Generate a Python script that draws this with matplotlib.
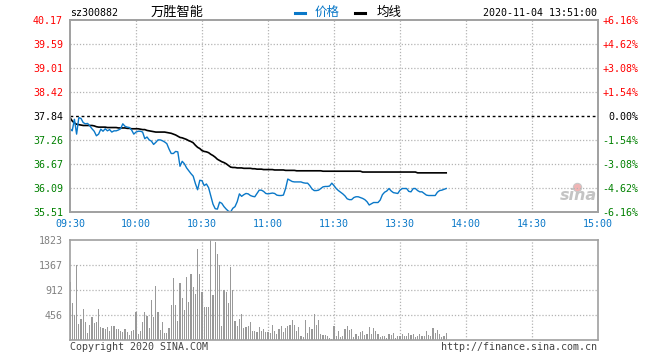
import matplotlib
matplotlib.use("Agg")
import matplotlib.pyplot as plt
from matplotlib.lines import Line2D
import numpy as np

# ---------------- data ----------------
stock_code = "sz300882"
stock_name = "万胜智能"
timestamp = "2020-11-04 13:51:00"
prev_close = 37.84

price = [37.53, 37.48, 37.76, 37.40, 37.80, 37.78, 37.68, 37.65, 37.66, 37.60,
         37.53, 37.47, 37.36, 37.40, 37.52, 37.47, 37.53, 37.48, 37.51, 37.45,
         37.48, 37.48, 37.50, 37.53, 37.65, 37.59, 37.57, 37.56, 37.50, 37.40,
         37.45, 37.47, 37.47, 37.45, 37.29, 37.33, 37.26, 37.23, 37.15, 37.20,
         37.26, 37.26, 37.24, 37.21, 37.17, 37.04, 36.93, 36.93, 36.98, 36.97,
         36.62, 36.74, 36.68, 36.58, 36.51, 36.44, 36.38, 36.20, 36.05, 36.28,
         36.27, 36.15, 36.19, 36.10, 35.90, 35.70, 35.59, 35.58, 35.75, 35.72,
         35.64, 35.58, 35.53, 35.51, 35.60, 35.64, 35.76, 35.95, 35.89, 35.93,
         35.96, 35.95, 35.91, 35.89, 35.88, 35.96, 36.04, 36.04, 36.01, 35.96,
         35.95, 35.96, 35.97, 35.96, 35.92, 35.91, 35.91, 35.92, 36.08, 36.31,
         36.28, 36.25, 36.24, 36.24, 36.24, 36.24, 36.22, 36.21, 36.21, 36.15,
         36.07, 36.03, 36.03, 36.04, 36.08, 36.12, 36.13, 36.13, 36.14, 36.21,
         36.15, 36.08, 36.03, 35.99, 35.95, 35.90, 35.83, 35.81, 35.81, 35.86,
         35.88, 35.88, 35.86, 35.84, 35.81, 35.76, 35.68, 35.71, 35.74, 35.74,
         35.74, 35.80, 35.93, 35.99, 36.02, 36.08, 36.02, 35.98, 35.97, 35.96,
         36.04, 36.08, 36.08, 36.08, 36.01, 36.00, 36.08, 36.08, 36.03, 36.00,
         36.00, 35.96, 35.92, 35.91, 35.91, 35.91, 35.91, 35.99, 36.03, 36.04,
         36.06, 36.08]

avg_price = [37.80, 37.72, 37.67, 37.64, 37.63, 37.62, 37.61, 37.61, 37.61, 37.61,
             37.61, 37.60, 37.58, 37.57, 37.57, 37.57, 37.57, 37.56, 37.56, 37.56,
             37.56, 37.56, 37.55, 37.55, 37.55, 37.55, 37.54, 37.54, 37.53, 37.53,
             37.53, 37.53, 37.52, 37.51, 37.51, 37.49, 37.48, 37.47, 37.46, 37.45,
             37.45, 37.45, 37.45, 37.45, 37.44, 37.43, 37.42, 37.40, 37.38, 37.35,
             37.32, 37.31, 37.29, 37.27, 37.24, 37.22, 37.19, 37.13, 37.08, 37.05,
             37.00, 36.98, 36.97, 36.95, 36.91, 36.88, 36.84, 36.79, 36.76, 36.73,
             36.71, 36.68, 36.64, 36.60, 36.59, 36.59, 36.58, 36.58, 36.58, 36.57,
             36.57, 36.57, 36.57, 36.56, 36.56, 36.55, 36.55, 36.55, 36.54, 36.54,
             36.54, 36.54, 36.54, 36.53, 36.53, 36.53, 36.53, 36.53, 36.52, 36.52,
             36.52, 36.52, 36.52, 36.51, 36.51, 36.51, 36.51, 36.51, 36.51, 36.51,
             36.51, 36.51, 36.51, 36.51, 36.51, 36.50, 36.50, 36.50, 36.50, 36.50,
             36.50, 36.50, 36.50, 36.50, 36.50, 36.50, 36.50, 36.50, 36.50, 36.50,
             36.50, 36.50, 36.50, 36.48, 36.48, 36.48, 36.48, 36.48, 36.48, 36.48,
             36.48, 36.48, 36.48, 36.48, 36.48, 36.48, 36.48, 36.48, 36.48, 36.48,
             36.48, 36.48, 36.48, 36.48, 36.48, 36.48, 36.48, 36.48, 36.46, 36.46,
             36.46, 36.46, 36.46, 36.46, 36.46, 36.46, 36.46, 36.46, 36.46, 36.46,
             36.46, 36.46]

volume = [1050, 680, 450, 1361, 292, 389, 571, 328, 134, 273,
          419, 304, 328, 571, 243, 219, 200, 243, 170, 255,
          255, 200, 200, 164, 152, 200, 146, 97, 164, 182,
          510, 115, 164, 328, 510, 437, 219, 729, 419, 984,
          510, 182, 328, 134, 134, 219, 638, 1130, 638, 346,
          1039, 766, 547, 1148, 693, 1203, 966, 839, 1665, 1203,
          875, 602, 602, 602, 1823, 814, 1787, 1568, 1361, 255,
          911, 875, 680, 1331, 911, 346, 255, 377, 468, 219,
          243, 255, 328, 164, 164, 146, 237, 164, 200, 146,
          146, 134, 273, 164, 109, 200, 255, 146, 219, 255,
          273, 365, 273, 164, 237, 73, 55, 365, 128, 243,
          200, 474, 280, 365, 115, 91, 97, 73, 36, 18,
          255, 73, 164, 55, 73, 200, 255, 182, 200, 55,
          109, 73, 146, 164, 91, 109, 237, 109, 219, 164,
          109, 55, 73, 73, 36, 109, 91, 128, 36, 73,
          73, 109, 73, 73, 128, 91, 109, 55, 73, 109,
          73, 73, 164, 91, 73, 219, 128, 182, 109, 55,
          73, 128]

price_ticks = [40.17, 39.59, 39.01, 38.42, 37.84, 37.26, 36.67, 36.09, 35.51]
pct_labels = ["+6.16%", "+4.62%", "+3.08%", "+1.54%", "0.00%",
              "-1.54%", "-3.08%", "-4.62%", "-6.16%"]
time_labels = ["09:30", "10:00", "10:30", "11:00", "11:30",
               "13:30", "14:00", "14:30", "15:00"]
vol_ticks = [456, 912, 1367, 1823]

# ---------------- style ----------------
W, H = 660, 360
RED = "#ff0000"
GREEN = "#008000"
BLUE = "#0a78c8"
FRAME = "#a0a0a0"
GRID = "#b4b4b4"
MONO = "DejaVu Sans Mono"
CJK = ["Noto Sans CJK SC", "DejaVu Sans"]

fig = plt.figure(figsize=(W / 100, H / 100), dpi=100)
fig.patch.set_facecolor("white")


def fx(x):
    return x / W


def fy(y):
    return 1 - y / H


def axes_px(left, top, right, bottom):
    return fig.add_axes([fx(left), fy(bottom), (right - left) / W, (bottom - top) / H])


ax = axes_px(70, 20, 598, 212)
axv = axes_px(70, 240, 598, 340)

n_total = 240
minutes = np.arange(len(price))
tick_pos = np.arange(0, n_total + 1, 30)

# ---- price panel ----
ax.set_xlim(0, n_total)
ax.set_ylim(price_ticks[-1], price_ticks[0])
dot = (0, (1, 1.5))
for t in tick_pos[1:-1]:
    ax.axvline(t, color=GRID, lw=0.9, ls=dot, zorder=1)
for p in price_ticks[1:-1]:
    if p == prev_close:
        continue
    ax.axhline(p, color=GRID, lw=0.9, ls=dot, zorder=1)
ax.axhline(prev_close, color="black", lw=1.0, ls=(0, (2, 2)), zorder=2)

ax.plot(minutes, avg_price, color="black", lw=1.2, zorder=3)
ax.plot(minutes, price, color=BLUE, lw=1.0, zorder=4)

ax.set_yticks(price_ticks)
ax.set_yticklabels([f"{p:.2f}" for p in price_ticks], fontfamily=MONO, fontsize=7.2)
for lbl, p in zip(ax.get_yticklabels(), price_ticks):
    lbl.set_color(RED if p > prev_close else ("black" if p == prev_close else GREEN))
ax.set_xticks(tick_pos)
ax.set_xticklabels(time_labels, fontfamily=MONO, fontsize=7.2, color=BLUE)
ax.tick_params(axis="both", length=0)
ax.tick_params(axis="y", pad=5)
ax.tick_params(axis="x", pad=5)

axr = ax.twinx()
axr.set_ylim(ax.get_ylim())
axr.set_yticks(price_ticks)
axr.set_yticklabels(pct_labels, fontfamily=MONO, fontsize=7.2)
for lbl, p in zip(axr.get_yticklabels(), price_ticks):
    lbl.set_color(RED if p > prev_close else ("black" if p == prev_close else GREEN))
    lbl.set_horizontalalignment("right")
axr.tick_params(axis="y", length=0, pad=29)

for a in (ax, axr):
    for s in a.spines.values():
        s.set_color(FRAME)
        s.set_linewidth(1.2)

# sina watermark
ax.text(0.998, 0.045, "sina", transform=ax.transAxes, ha="right", va="bottom",
        fontsize=11.5, fontstyle="italic", fontweight="bold", color="#c4c4c4",
        family="DejaVu Sans", zorder=0)
ax.plot([0.961], [0.13], "o", transform=ax.transAxes, ms=6, color="#f0b4b4",
        mec="#c8c8c8", mew=0.8, zorder=0)

# ---- volume panel ----
axv.set_xlim(0, n_total)
axv.set_ylim(0, vol_ticks[-1])
for t in tick_pos[1:-1]:
    axv.axvline(t, color=GRID, lw=0.9, ls=dot, zorder=1)
for v in vol_ticks[:-1]:
    axv.axhline(v, color=GRID, lw=0.9, ls=dot, zorder=1)
axv.bar(np.arange(len(volume)), volume, width=0.5, color="#999999", align="center", zorder=2)
axv.set_yticks(vol_ticks)
axv.set_yticklabels([str(v) for v in vol_ticks], fontfamily=MONO, fontsize=7.2, color="#808080")
axv.set_xticks([])
axv.tick_params(axis="y", length=0, pad=5)
for s in axv.spines.values():
    s.set_color(FRAME)
    s.set_linewidth(1.2)

# ---- header ----
fig.text(fx(70), fy(13), stock_code, fontfamily=MONO, fontsize=7.2, ha="left", va="center")
fig.text(fx(177), fy(12), stock_name, family=CJK, fontsize=9.5, ha="center", va="center")
fig.add_artist(Line2D([fx(295), fx(305)], [fy(12.7), fy(12.7)], color=BLUE, lw=2.2,
                      transform=fig.transFigure))
fig.text(fx(327), fy(12), "价格", family=CJK, fontsize=9, color=BLUE, ha="center", va="center")
fig.add_artist(Line2D([fx(355), fx(365)], [fy(12.7), fy(12.7)], color="black", lw=2.2,
                      transform=fig.transFigure))
fig.text(fx(389), fy(12), "均线", family=CJK, fontsize=9, color="black", ha="center", va="center")
fig.text(fx(597), fy(13), timestamp, fontfamily=MONO, fontsize=7.2, ha="right", va="center")

# ---- footer ----
fig.text(fx(70), fy(347), "Copyright 2020 SINA.COM", fontfamily=MONO, fontsize=7.2,
         color="#444444", ha="left", va="center")
fig.text(fx(597), fy(347), "http://finance.sina.com.cn", fontfamily=MONO, fontsize=7.2,
         color="#444444", ha="right", va="center")

fig.savefig("out.png", dpi=100, facecolor="white")
